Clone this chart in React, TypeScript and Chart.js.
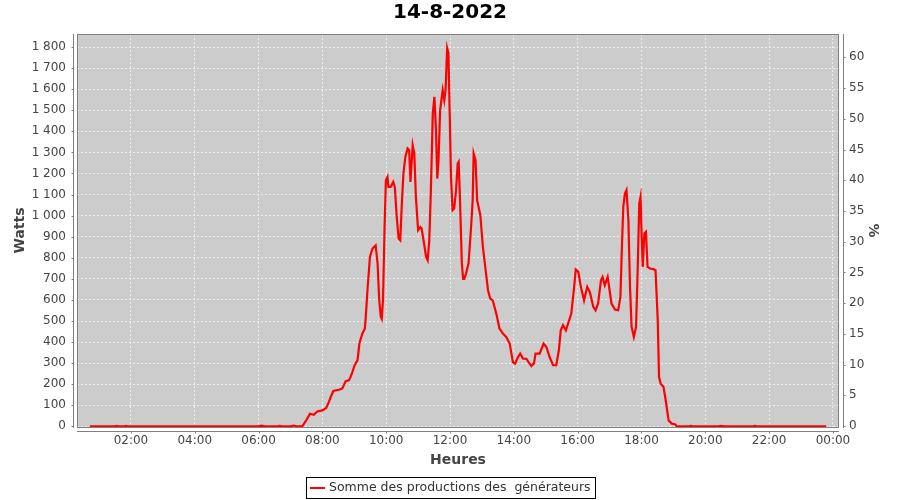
import React, { useEffect, useRef } from "react";
import { Chart, registerables } from "chart.js";

Chart.register(...registerables);

const TITLE = "14-8-2022";
const SERIES_LABEL = "Somme des productions des  générateurs";
const X_TITLE = "Heures";
const Y_TITLE = "Watts";
const Y2_TITLE = "%";

// time of day in decimal hours
const HOURS = [
  0.71, 1.0, 1.5, 1.55, 1.6, 1.8, 1.85, 1.9, 2.2, 4.0, 6.0, 6.1, 6.2, 6.6, 6.65, 6.75, 7.0, 7.1, 7.2, 7.37,
  7.5, 7.61, 7.73, 7.84, 8.0, 8.12, 8.2, 8.26, 8.34, 8.52, 8.62, 8.73, 8.83, 8.89, 8.94, 9.01,
  9.1, 9.16, 9.25, 9.33, 9.36, 9.41, 9.49, 9.57, 9.67, 9.73, 9.78, 9.83, 9.86, 9.9, 9.95, 9.99,
  10.04, 10.07, 10.14, 10.22, 10.27, 10.33, 10.39, 10.44, 10.49, 10.54, 10.6, 10.67, 10.72, 10.76,
  10.83, 10.88, 10.93, 11.0, 11.07, 11.11, 11.17, 11.25, 11.3, 11.35, 11.4, 11.46, 11.51, 11.56,
  11.6, 11.64, 11.69, 11.77, 11.82, 11.86, 11.91, 11.95, 11.99, 12.03, 12.08, 12.13, 12.19, 12.24,
  12.27, 12.31, 12.37, 12.41, 12.45, 12.5, 12.58, 12.66, 12.71, 12.74, 12.8, 12.85, 12.95, 13.03,
  13.08, 13.19, 13.26, 13.34, 13.45, 13.55, 13.66, 13.76, 13.87, 13.97, 14.04, 14.13, 14.2, 14.29,
  14.39, 14.46, 14.55, 14.63, 14.68, 14.81, 14.93, 15.02, 15.12, 15.23, 15.33, 15.41, 15.47, 15.54,
  15.63, 15.7, 15.8, 15.89, 15.94, 16.02, 16.1, 16.2, 16.3, 16.38, 16.49, 16.56, 16.64, 16.73,
  16.78, 16.85, 16.94, 17.06, 17.17, 17.27, 17.34, 17.38, 17.43, 17.48, 17.53, 17.59, 17.64, 17.69,
  17.76, 17.83, 17.88, 17.93, 17.97, 18.0, 18.04, 18.09, 18.14, 18.19, 18.27, 18.37, 18.44, 18.51,
  18.55, 18.6, 18.69, 18.76, 18.85, 18.95, 19.05, 19.11, 19.5, 19.55, 19.6, 20.4, 20.5, 20.6, 21.5,
  21.55, 21.6, 23.79,
];

// power in watts
const WATTS = [
  0, 0, 0, 2, 0, 0, 2, 0, 0, 0, 0, 3, 0, 0, 2, 0, 0, 4, 0, 0,
  30, 60, 55, 71, 76, 87, 115, 139, 168, 174, 179, 214, 218, 237, 258, 290,
  313, 393, 440, 464, 519, 640, 804, 844, 859, 773, 600, 520, 510, 600, 950, 1168,
  1184, 1136, 1136, 1160, 1136, 994, 891, 883, 1057, 1200, 1279, 1319, 1311, 1160,
  1334, 1295, 1089, 931, 946, 939, 883, 804, 788, 883, 1121, 1485, 1564, 1406,
  1176, 1263, 1501, 1596, 1548, 1596, 1795, 1770, 1485, 1184, 1026, 1034, 1121, 1247,
  1255, 1089, 773, 700, 700, 725, 773, 946, 1073, 1295, 1263, 1073, 1002, 851,
  788, 646, 606, 598, 535, 464, 440, 424, 393, 305, 298, 329, 345, 321,
  321, 305, 286, 298, 345, 345, 393, 377, 329, 290, 290, 361, 456, 480,
  456, 488, 535, 662, 744, 733, 662, 598, 662, 638, 567, 551, 583, 693,
  709, 670, 709, 583, 554, 551, 614, 820, 1042, 1105, 1121, 978, 662, 472,
  424, 472, 741, 1057, 1089, 931, 757, 915, 923, 757, 749, 746, 741, 503,
  234, 203, 187, 123, 28, 13, 10, 0, 0, 2, 0, 0, 2, 0, 0,
  2, 0, 0,
];

const X_TICKS = [2, 4, 6, 8, 10, 12, 14, 16, 18, 20, 22, 24];
const Y_TICKS = [0, 100, 200, 300, 400, 500, 600, 700, 800, 900, 1000, 1100, 1200, 1300, 1400, 1500, 1600, 1700, 1800];
const PCT_TICKS = [0, 5, 10, 15, 20, 25, 30, 35, 40, 45, 50, 55, 60];

const FONT = "'DejaVu Sans', 'Liberation Sans', sans-serif";
const TEXT = "#444444";
const AXIS = "#808080";

const fmtHour = (v: number) => `${String(Math.round(v) % 24).padStart(2, "0")}:00`;
const fmtWatts = (v: number) =>
  v >= 1000 ? `${Math.floor(v / 1000)} ${String(v % 1000).padStart(3, "0")}` : String(v);

const framePlugin = {
  id: "frame",
  beforeDraw(chart: any) {
    const { ctx, chartArea: a } = chart;
    ctx.save();
    ctx.fillStyle = "#cccccc";
    ctx.fillRect(a.left, a.top, a.right - a.left, a.bottom - a.top);
    ctx.restore();
  },
  afterDraw(chart: any) {
    const { ctx, chartArea: a } = chart;
    const L = Math.round(a.left), R = Math.round(a.right), T = Math.round(a.top), B = Math.round(a.bottom);
    ctx.save();
    ctx.strokeStyle = AXIS;
    ctx.lineWidth = 1;
    // plot outline
    ctx.strokeRect(L + 0.5, T + 0.5, R - L - 1, B - T);
    // left axis
    const lx = L - 4 + 0.5;
    ctx.beginPath();
    ctx.moveTo(lx, T);
    ctx.lineTo(lx, B + 1);
    const ys = chart.scales.y;
    for (const v of Y_TICKS) {
      const py = Math.round(ys.getPixelForValue(v)) + 0.5;
      ctx.moveTo(lx - 2, py);
      ctx.lineTo(lx, py);
    }
    // right axis
    const rx = R + 4 + 0.5;
    ctx.moveTo(rx, T);
    ctx.lineTo(rx, B + 1);
    const y2 = chart.scales.y2;
    for (const v of PCT_TICKS) {
      const py = Math.round(y2.getPixelForValue(v)) + 0.5;
      ctx.moveTo(rx, py);
      ctx.lineTo(rx + 2, py);
    }
    // bottom axis
    const by = B + 4 + 0.5;
    ctx.moveTo(L, by);
    ctx.lineTo(R, by);
    const xs = chart.scales.x;
    for (const v of X_TICKS) {
      const px = Math.round(xs.getPixelForValue(v)) + 0.5;
      ctx.moveTo(px, by);
      ctx.lineTo(px, by + 2);
    }
    ctx.stroke();

    // legend
    ctx.font = `12.5px ${FONT}`;
    const tw = ctx.measureText(SERIES_LABEL).width;
    const pad = 4, sym = 15, gap = 4;
    const w = Math.round(pad + sym + gap + tw + pad);
    const h = 21;
    const left = Math.round(chart.width / 2 - w / 2);
    const top = chart.height - 23;
    ctx.strokeStyle = "#000000";
    ctx.strokeRect(left + 0.5, top + 0.5, w, h);
    const cy = top + h / 2 + 0.5;
    ctx.strokeStyle = "#ff0000";
    ctx.lineWidth = 2;
    ctx.beginPath();
    ctx.moveTo(left + pad, cy);
    ctx.lineTo(left + pad + sym, cy);
    ctx.stroke();
    ctx.fillStyle = "#333333";
    ctx.textBaseline = "middle";
    ctx.textAlign = "left";
    ctx.fillText(SERIES_LABEL, left + pad + sym + gap, cy);
    ctx.restore();
  },
};

export default function App() {
  const ref = useRef<HTMLCanvasElement | null>(null);

  useEffect(() => {
    if (!ref.current) return;
    Chart.defaults.font.family = FONT;
    const chart = new Chart(ref.current, {
      type: "line",
      data: {
        datasets: [
          {
            label: SERIES_LABEL,
            data: HOURS.map((h, i) => ({ x: h, y: WATTS[i] })),
            borderColor: "#ff0000",
            backgroundColor: "#ff0000",
            borderWidth: 2.2,
            pointRadius: 0,
            tension: 0,
            fill: false,
            yAxisID: "y",
          },
        ],
      },
      options: {
        animation: false,
        responsive: false,
        devicePixelRatio: 1,
        layout: { padding: { left: 0, right: 0, top: 0, bottom: 28 } },
        plugins: {
          legend: { display: false },
          tooltip: { enabled: false },
          title: {
            display: true,
            text: TITLE,
            color: "#000000",
            font: { family: FONT, size: 20, weight: "bold" },
            padding: { top: 1, bottom: 9 },
          },
        },
        scales: {
          x: {
            type: "linear",
            min: 0.31,
            max: 24.19,
            afterBuildTicks: (s: any) => {
              s.ticks = X_TICKS.map((v) => ({ value: v }));
            },
            afterFit: (s: any) => {
              s.height = 45;
            },
            ticks: {
              callback: (v: any) => fmtHour(Number(v)),
              color: TEXT,
              font: { family: FONT, size: 12 },
              padding: 7,
              maxRotation: 0,
              autoSkip: false,
            },
            grid: { color: "#eeeeee", lineWidth: 1, drawTicks: false },
            border: { display: false, dash: [2, 2] },
            title: {
              display: true,
              text: X_TITLE,
              color: TEXT,
              font: { family: FONT, size: 14, weight: "bold" },
              padding: { top: 0, bottom: 3.5 },
            },
          },
          y: {
            type: "linear",
            position: "left",
            min: -3,
            max: 1862,
            afterBuildTicks: (s: any) => {
              s.ticks = Y_TICKS.map((v) => ({ value: v }));
            },
            afterFit: (s: any) => {
              s.width = 77;
            },
            ticks: {
              callback: (v: any) => fmtWatts(Number(v)),
              color: TEXT,
              font: { family: FONT, size: 12 },
              padding: 11,
              autoSkip: false,
            },
            grid: { color: "#eeeeee", lineWidth: 1, drawTicks: false },
            border: { display: false, dash: [2, 2] },
            title: {
              display: true,
              text: Y_TITLE,
              color: TEXT,
              font: { family: FONT, size: 14, weight: "bold" },
              padding: { top: 12, bottom: 0 },
            },
          },
          y2: {
            type: "linear",
            position: "right",
            min: -0.16,
            max: 63.8,
            afterBuildTicks: (s: any) => {
              s.ticks = PCT_TICKS.map((v) => ({ value: v }));
            },
            afterFit: (s: any) => {
              s.width = 61;
            },
            ticks: {
              color: TEXT,
              font: { family: FONT, size: 12 },
              padding: 10,
              autoSkip: false,
            },
            grid: { drawOnChartArea: false, drawTicks: false },
            border: { display: false },
            title: {
              display: true,
              text: Y2_TITLE,
              color: TEXT,
              font: { family: FONT, size: 14, weight: "bold" },
              padding: { top: 18.6, bottom: 0 },
            },
          },
        },
      } as any,
      plugins: [framePlugin],
    });
    return () => chart.destroy();
  }, []);

  return (
    <div style={{ position: "absolute", left: 0, top: 0, width: 900, height: 500, background: "#ffffff" }}>
      <canvas ref={ref} width={900} height={500} style={{ display: "block", width: 900, height: 500 }} />
    </div>
  );
}
